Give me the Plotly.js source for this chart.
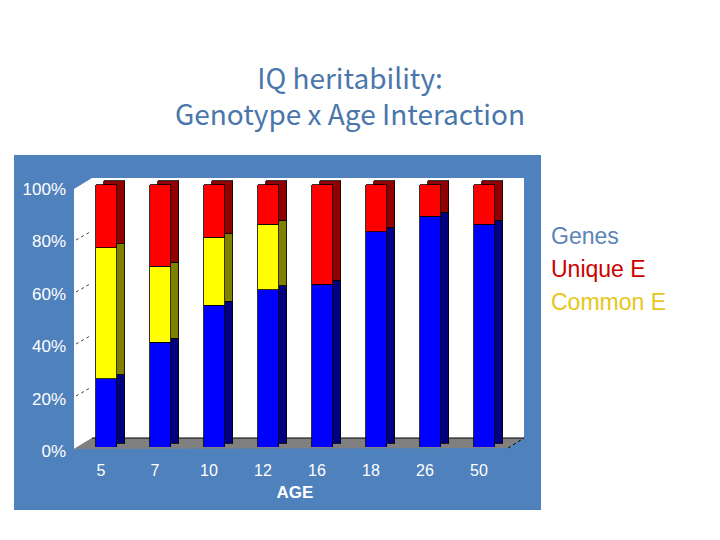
<!DOCTYPE html>
<html>
<head>
<meta charset="utf-8">
<script src="https://cdn.plot.ly/plotly-3.0.1.min.js"></script>
<style>
  body { margin: 0; background: #ffffff; }
  #chart { width: 720px; height: 540px; }
</style>
</head>
<body>
<div id="chart"></div>
<script>
// Data (percent of variance)
const ages = ['5', '7', '10', '12', '16', '18', '26', '50'];
const genes = [26, 40, 54, 60, 62, 82, 88, 85];
const commonE = [50, 29, 26, 25, 0, 0, 0, 0];
const uniqueE = [24, 31, 20, 15, 38, 18, 12, 15];
const seriesNames = ['Genes', 'Unique E', 'Common E'];
const yTicks = [0, 20, 40, 60, 80, 100];
const yTickText = yTicks.map(v => v + '%');

// front plane: 0% at y=447px, 100% at y=185px
const pxPerPct = 2.62;
const yMax = 106;  // headroom so the bar tops are not clipped
const plotL = 79, plotR = 511, plotB = 447;
const plotT = Math.round(plotB - yMax * pxPerPct);
const plotW = plotR - plotL, plotH = plotB - plotT;
const depthX = 8, depthY = 4;  // bar extrusion, px

// pixel -> paper helpers for the decoration shapes
const px = x => (x - plotL) / plotW;
const py = y => (plotB - y) / plotH;
const pt = (x, y) => px(x) + ',' + py(y);

const faceColors = {genes: '#0000ff', common: '#ffff00', unique: '#ff0000'};
const sideColors = {genes: '#000080', common: '#808000', unique: '#900000'};

function barTrace(name, vals, color, axes) {
  return {
    type: 'bar',
    x: ages,
    y: vals,
    name: name,
    xaxis: axes[0],
    yaxis: axes[1],
    marker: {color: color, line: {color: '#000000', width: 0.8}},
    hoverinfo: 'skip',
    showlegend: false
  };
}

// dark copies drawn behind, shifted right/up, make the 3D side and top
const shadow = ['x', 'y'];
const front = ['x2', 'y2'];
const data = [
  barTrace(seriesNames[0], genes, sideColors.genes, shadow),
  barTrace(seriesNames[2], commonE, sideColors.common, shadow),
  barTrace(seriesNames[1], uniqueE, sideColors.unique, shadow),
  barTrace(seriesNames[0], genes, faceColors.genes, front),
  barTrace(seriesNames[2], commonE, faceColors.common, front),
  barTrace(seriesNames[1], uniqueE, faceColors.unique, front)
];

const catStep = plotW / ages.length;
const dCat = depthX / catStep;
const dVal = depthY / pxPerPct;

// panel, walls, floor
const shapes = [
  {type: 'rect', xref: 'paper', yref: 'paper', layer: 'below',
   x0: px(14), x1: px(541), y0: py(155), y1: py(510),
   fillcolor: '#4f81bd', line: {width: 0}},
  {type: 'rect', xref: 'paper', yref: 'paper', layer: 'below',
   x0: px(92), x1: px(524), y0: py(178), y1: py(438),
   fillcolor: '#ffffff', line: {width: 0}},
  {type: 'path', xref: 'paper', yref: 'paper', layer: 'below',
   path: 'M' + pt(74, 189) + 'L' + pt(92, 178) + 'L' + pt(92, 438) + 'L' + pt(74, 449) + 'Z',
   fillcolor: '#ffffff', line: {width: 0}},
  {type: 'path', xref: 'paper', yref: 'paper', layer: 'below',
   path: 'M' + pt(74, 449) + 'L' + pt(92, 438) + 'L' + pt(524, 438) + 'L' + pt(508, 448) + 'Z',
   fillcolor: '#808080', line: {width: 0}},
  {type: 'line', xref: 'paper', yref: 'paper', layer: 'below',
   x0: px(92), x1: px(524), y0: py(438), y1: py(438),
   line: {color: '#000000', width: 1}},
  {type: 'line', xref: 'paper', yref: 'paper', layer: 'below',
   x0: px(508), x1: px(524), y0: py(448), y1: py(438),
   line: {color: '#000000', width: 1, dash: 'dot'}}
];
// dotted grid marks on the left wall
yTicks.slice(1, 5).forEach(v => {
  const yf = 449 - 2.6 * v;
  shapes.push({type: 'line', xref: 'paper', yref: 'paper', layer: 'below',
    x0: px(76), x1: px(90), y0: py(yf - 1), y1: py(yf - 9),
    line: {color: '#444444', width: 1, dash: 'dot'}});
});

// legend as coloured text
const legendColors = ['#5b84b8', '#cc0000', '#e6c619'];
const annotations = seriesNames.map((n, i) => ({
  text: n, xref: 'paper', yref: 'paper',
  x: px(549), y: py(236 + 33 * i), xanchor: 'left', yanchor: 'middle',
  showarrow: false,
  font: {family: 'Liberation Sans, Arial, sans-serif', size: 23, color: legendColors[i]}
}));

const layout = {
  width: 720,
  height: 540,
  paper_bgcolor: '#ffffff',
  plot_bgcolor: 'rgba(0,0,0,0)',
  margin: {l: plotL, r: 720 - plotR, t: plotT, b: 540 - plotB, pad: 0},
  barmode: 'stack',
  bargap: 1 - 21 / catStep,
  showlegend: false,
  title: {
    text: 'IQ heritability:<br>Genotype x Age Interaction',
    x: 350 / 720, xanchor: 'center', xref: 'container',
    y: 1 - 89 / 540, yanchor: 'middle', yref: 'container',
    font: {family: 'Noto Sans CJK JP, sans-serif', size: 28, color: '#4a76ab'}
  },
  xaxis: {type: 'category', range: [-0.5 - dCat, ages.length - 0.5 - dCat],
          visible: false, fixedrange: true},
  yaxis: {range: [-dVal, yMax - dVal], visible: false, fixedrange: true},
  xaxis2: {
    type: 'category', overlaying: 'x', range: [-0.5, ages.length - 0.5],
    showgrid: false, zeroline: false, showline: false, ticks: '',
    ticklabelstandoff: 12, ticklabelshift: -5,
    tickfont: {family: 'Liberation Sans, Arial, sans-serif', size: 16, color: '#ffffff'},
    title: {text: 'AGE', standoff: 8,
            font: {family: 'Liberation Sans, Arial, sans-serif', size: 17, color: '#ffffff', weight: 'bold'}}
  },
  yaxis2: {
    overlaying: 'y', range: [0, yMax],
    tickmode: 'array', tickvals: yTicks, ticktext: yTickText,
    showgrid: false, zeroline: false, showline: false, ticks: '',
    ticklabelstandoff: 12, ticklabelshift: 4,
    tickfont: {family: 'Liberation Sans, Arial, sans-serif', size: 17, color: '#ffffff'}
  },
  shapes: shapes,
  annotations: annotations
};

Plotly.newPlot('chart', data, layout, {displayModeBar: false, staticPlot: true});
</script>
</body>
</html>
